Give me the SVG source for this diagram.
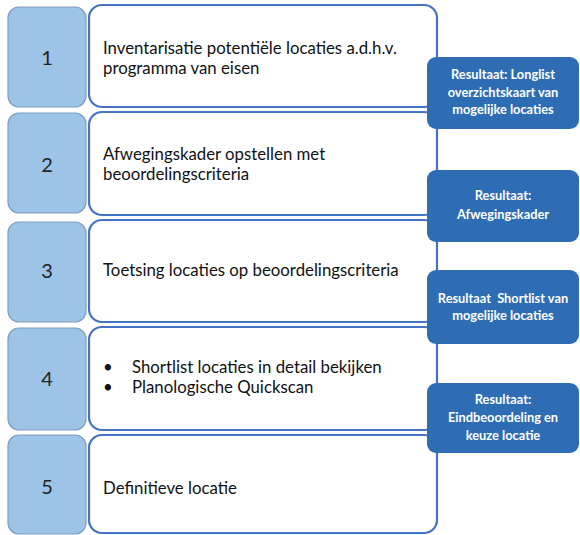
<svg xmlns="http://www.w3.org/2000/svg" width="580" height="535" viewBox="0 0 580 535">
<style>
.num{fill:#9dc3e6;stroke:#7f9dbd;stroke-width:1.2}
.step{fill:#ffffff;stroke:#4472c4;stroke-width:2.2}
.res{fill:#2e6db4;stroke:none}
.n{font-family:Lato,"Liberation Sans",sans-serif;font-size:20px;fill:#222;text-anchor:middle}
.t{font-family:Lato,"Liberation Sans",sans-serif;font-size:16.8px;fill:#111}
.r{font-family:Lato,"Liberation Sans",sans-serif;font-size:12.8px;font-weight:bold;fill:#ffffff;text-anchor:middle}
</style>
<rect width="580" height="535" fill="#ffffff"/>
<g id="step1">
<rect class="num" x="8" y="7" width="78" height="100" rx="11"/>
<text class="n" x="47" y="65">1</text>
<rect class="step" x="89" y="5" width="348" height="102" rx="13"/>
<text class="t" x="103" y="54">Inventarisatie potentiële locaties a.d.h.v.</text>
<text class="t" x="103" y="74">programma van eisen</text>
</g>
<g id="step2">
<rect class="num" x="8" y="113" width="78" height="100" rx="11"/>
<text class="n" x="47" y="172">2</text>
<rect class="step" x="89" y="112" width="348" height="103" rx="13"/>
<text class="t" x="103" y="160">Afwegingskader opstellen met</text>
<text class="t" x="103" y="180">beoordelingscriteria</text>
</g>
<g id="step3">
<rect class="num" x="8" y="222" width="78" height="100" rx="11"/>
<text class="n" x="47" y="278">3</text>
<rect class="step" x="89" y="220" width="348" height="102" rx="13"/>
<text class="t" x="103" y="276">Toetsing locaties op beoordelingscriteria</text>
</g>
<g id="step4">
<rect class="num" x="8" y="328" width="78" height="102" rx="11"/>
<text class="n" x="47" y="386">4</text>
<rect class="step" x="89" y="327" width="348" height="103" rx="13"/>
<text class="t" x="103" y="373">•</text>
<text class="t" x="132" y="373">Shortlist locaties in detail bekijken</text>
<text class="t" x="103" y="393">•</text>
<text class="t" x="132" y="393">Planologische Quickscan</text>
</g>
<g id="step5">
<rect class="num" x="8" y="435" width="78" height="99" rx="11"/>
<text class="n" x="47" y="494">5</text>
<rect class="step" x="89" y="435" width="348" height="98" rx="13"/>
<text class="t" x="103" y="494">Definitieve locatie</text>
</g>
<g id="connectors"></g>
<g id="result1">
<rect class="res" x="427" y="57" width="152" height="72" rx="9"/>
<text class="r" x="503" y="79">Resultaat: Longlist</text>
<text class="r" x="503" y="97">overzichtskaart van</text>
<text class="r" x="503" y="114">mogelijke locaties</text>
</g>
<g id="result2">
<rect class="res" x="427" y="170" width="152" height="72" rx="9"/>
<text class="r" x="503" y="200">Resultaat:</text>
<text class="r" x="503" y="219">Afwegingskader</text>
</g>
<g id="result3">
<rect class="res" x="427" y="270" width="152" height="74" rx="9"/>
<text class="r" x="503" y="303" style="white-space:pre">Resultaat  Shortlist van</text>
<text class="r" x="503" y="320">mogelijke locaties</text>
</g>
<g id="result4">
<rect class="res" x="427" y="383" width="152" height="70" rx="9"/>
<text class="r" x="503" y="404">Resultaat:</text>
<text class="r" x="503" y="422">Eindbeoordeling en</text>
<text class="r" x="503" y="440">keuze locatie</text>
</g>
</svg>
